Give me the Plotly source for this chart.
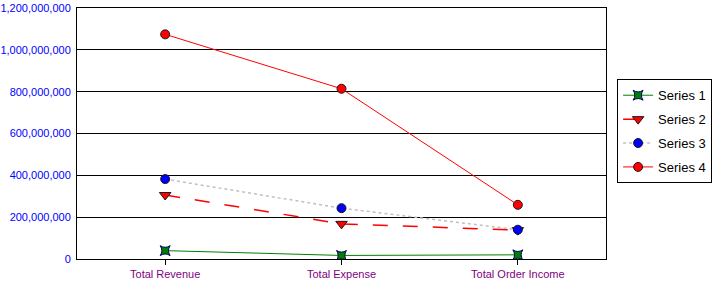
import plotly.graph_objects as go

categories = ["Total Revenue", "Total Expense", "Total Order Income"]
series1 = [40_000_000, 17_000_000, 20_000_000]
series2 = [306_000_000, 168_000_000, 138_000_000]
series3 = [382_000_000, 243_000_000, 140_000_000]
series4 = [1_074_000_000, 814_000_000, 259_000_000]
y_ticks = [0, 200_000_000, 400_000_000, 600_000_000, 800_000_000, 1_000_000_000, 1_200_000_000]
y_ticktext = ["0", "200,000,000", "400,000,000", "600,000,000", "800,000,000", "1,000,000,000", "1,200,000,000"]

FONT = "Liberation Sans, Arial, sans-serif"
outline = dict(color="#1a1a1a", width=1)

fig = go.Figure()
fig.add_trace(go.Scatter(
    x=categories, y=series1, name="Series 1", mode="lines+markers", legendgroup="s1",
    line=dict(color="#008000", width=1),
    marker=dict(symbol="star-square", size=9, color="#008000", line=dict(color="#000060", width=1)),
))
fig.add_trace(go.Scatter(
    x=categories, y=series2, name="Series 2", mode="lines+markers", legendgroup="s2",
    line=dict(color="#ff0000", width=1.5, dash="longdash"),
    marker=dict(symbol="triangle-down", size=10, color="#ff0000", line=outline),
))
fig.add_trace(go.Scatter(
    x=categories, y=series3, name="Series 3", mode="lines+markers", legendgroup="s3",
    line=dict(color="#c0c0c0", width=1.5, dash="dot"),
    marker=dict(symbol="circle", size=9, color="#0000ff", line=outline),
))
fig.add_trace(go.Scatter(
    x=categories, y=series4, name="Series 4", mode="lines+markers", legendgroup="s4",
    line=dict(color="#ff0000", width=1),
    marker=dict(symbol="circle", size=9, color="#ff0000", line=outline),
))

fig.update_layout(
    width=725, height=283,
    margin=dict(l=77, r=119, t=8, b=24, autoexpand=False),
    paper_bgcolor="white", plot_bgcolor="white",
    font=dict(family=FONT, size=11, color="black"),
    legend=dict(
        x=1.021, xanchor="left", y=0.716, yanchor="top",
        bordercolor="black", borderwidth=1, bgcolor="white",
        font=dict(family=FONT, size=13, color="black"),
        traceorder="grouped", tracegroupgap=4,
    ),
    xaxis=dict(
        type="category", range=[-0.5, 2.5], automargin=False,
        showline=True, linecolor="black", linewidth=1, mirror=True,
        ticks="outside", ticklen=5, tickcolor="black",
        showgrid=False, zeroline=False,
        tickfont=dict(family=FONT, size=11, color="#800080"),
    ),
    yaxis=dict(
        range=[0, 1_200_000_000], automargin=False,
        tickvals=y_ticks, ticktext=y_ticktext,
        showline=True, linecolor="black", linewidth=1, mirror=True,
        showgrid=True, gridcolor="black", gridwidth=1,
        zeroline=False, ticks="", ticklabelstandoff=3,
        tickfont=dict(family=FONT, size=11, color="#0000ff"),
    ),
    showlegend=True,
)

fig.write_html("out.html")
